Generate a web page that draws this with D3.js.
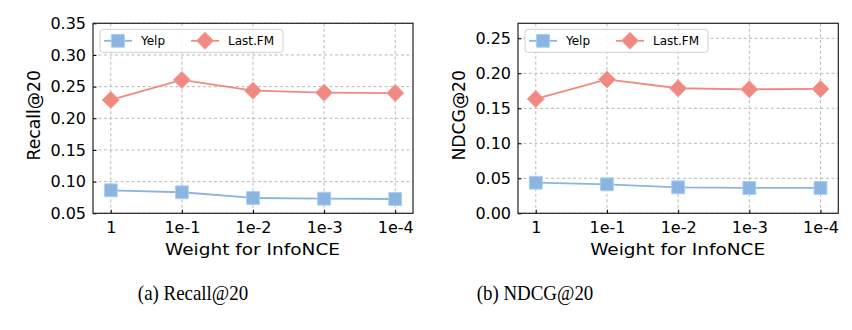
<!DOCTYPE html>
<html><head><meta charset="utf-8">
<script src="https://cdn.jsdelivr.net/npm/d3@7"></script>
<style>body{margin:0;background:#fff}svg{display:block}</style>
</head><body>
<svg id="c" width="852" height="330"></svg>
<script>
const categories = ["1","1e-1","1e-2","1e-3","1e-4"];
const recallYelp = [0.0863,0.0832,0.0742,0.0731,0.0726];
const recallLastFM = [0.2290,0.2605,0.2436,0.2405,0.2398];
const ndcgYelp = [0.0437,0.0414,0.0371,0.0362,0.0362];
const ndcgLastFM = [0.1633,0.1912,0.1786,0.1771,0.1776];
const recallTicks = [0.05,0.10,0.15,0.20,0.25,0.30,0.35];
const ndcgTicks = [0.00,0.05,0.10,0.15,0.20,0.25];
const seriesNames = ["Yelp","Last.FM"];
const colors = {Yelp:"#8cb4de", "Last.FM":"#ef8a82"};

const svg = d3.select("#c");
const font = "DejaVu Sans, sans-serif";
const symFor = name => name==="Yelp" ? d3.symbol(d3.symbolSquare, 165) : d3.symbol(d3.symbolDiamond2, 185);

function panel(x0, x1, yDomain, ticks, yLabel, yelp, lastfm, caption, capX) {
  const top = 23.3, bottom = 213.3;
  const g = svg.append("g");
  const x = d3.scaleLinear().domain([-0.25, 4.25]).range([x0, x1]);
  const y = d3.scaleLinear().domain(yDomain).range([bottom, top]);
  // grid
  g.append("g").selectAll("line").data(ticks).join("line")
    .attr("x1", x0).attr("x2", x1).attr("y1", d=>y(d)).attr("y2", d=>y(d))
    .attr("stroke", "#b8b8b8").attr("stroke-width", 1).attr("stroke-dasharray", "3,2.5");
  g.append("g").selectAll("line").data(categories).join("line")
    .attr("x1", (d,i)=>x(i)).attr("x2", (d,i)=>x(i)).attr("y1", top).attr("y2", bottom)
    .attr("stroke", "#b8b8b8").attr("stroke-width", 1).attr("stroke-dasharray", "3,2.5");
  // axes
  const ax = g.append("g").attr("transform", `translate(0,${bottom})`)
    .call(d3.axisBottom(x).tickValues([0,1,2,3,4]).tickFormat(i=>categories[i]).tickSizeInner(-3.5).tickSizeOuter(0).tickPadding(8));
  ax.select(".domain").remove();
  ax.selectAll("text").attr("font-family", font).attr("font-size", 16).attr("fill", "#000");
  ax.selectAll("line").attr("stroke", "#000");
  const ay = g.append("g").attr("transform", `translate(${x0},0)`)
    .call(d3.axisLeft(y).tickValues(ticks).tickFormat(d3.format(".2f")).tickSizeInner(-3.5).tickSizeOuter(0).tickPadding(7));
  ay.select(".domain").remove();
  ay.selectAll("text").attr("font-family", font).attr("font-size", 16).attr("fill", "#000");
  ay.selectAll("line").attr("stroke", "#000");
  g.append("rect").attr("x", x0).attr("y", top).attr("width", x1-x0).attr("height", bottom-top)
    .attr("fill", "none").attr("stroke", "#222").attr("stroke-width", 1.2);
  // lines
  const line = d3.line().x((d,i)=>x(i)).y(d=>y(d));
  [[yelp,"Yelp"],[lastfm,"Last.FM"]].forEach(([data,name])=>{
    g.append("path").datum(data).attr("d", line).attr("fill","none")
      .attr("stroke", colors[name]).attr("stroke-width", 1.8);
    g.append("g").selectAll("path").data(data).join("path")
      .attr("d", symFor(name))
      .attr("transform", (d,i)=>`translate(${x(i)},${y(d)})`)
      .attr("fill", colors[name]).attr("stroke", d3.color(colors[name]).brighter(0.4)).attr("stroke-width", 1);
  });
  // legend
  const lg = g.append("g").attr("transform", `translate(${x0+7},${top+6})`);
  lg.append("rect").attr("width", 183).attr("height", 23).attr("rx", 3)
    .attr("fill", "rgba(255,255,255,0.85)").attr("stroke", "#d0d0d0");
  seriesNames.forEach((name,k)=>{
    const lx = 4 + k*87;
    lg.append("line").attr("x1", lx).attr("x2", lx+28).attr("y1", 11.5).attr("y2", 11.5)
      .attr("stroke", colors[name]).attr("stroke-width", 1.8);
    lg.append("path").attr("d", symFor(name))
      .attr("transform", `translate(${lx+14},11.5)`)
      .attr("fill", colors[name]).attr("stroke", d3.color(colors[name]).brighter(0.4));
    lg.append("text").attr("x", lx+37).attr("y", 16).text(name)
      .attr("font-family", font).attr("font-size", 12).attr("fill", "#000");
  });
  // axis labels
  g.append("text").attr("x", (x0+x1)/2 - 0.5).attr("y", 254.5).attr("text-anchor","middle")
    .attr("font-family", font).attr("font-size", 16.5)
    .attr("textLength", 175).attr("lengthAdjust", "spacingAndGlyphs").text("Weight for InfoNCE");
  g.append("text").attr("transform", `translate(${x0-53},${(top+bottom)/2 - 3}) rotate(-90)`)
    .attr("text-anchor","middle").attr("font-family", font).attr("font-size", 17.2).text(yLabel);
  svg.append("text").attr("transform", `translate(${capX},300) scale(0.86,1)`).attr("text-anchor","middle")
    .attr("font-family", "Liberation Serif, serif").attr("font-size", 22).text(caption);
}

panel(93, 413, [0.05, 0.35], recallTicks, "Recall@20", recallYelp, recallLastFM, "(a) Recall@20", 193);
panel(518, 838.3, [0, 0.2714], ndcgTicks, "NDCG@20", ndcgYelp, ndcgLastFM, "(b) NDCG@20", 535);
</script>
</body></html>
